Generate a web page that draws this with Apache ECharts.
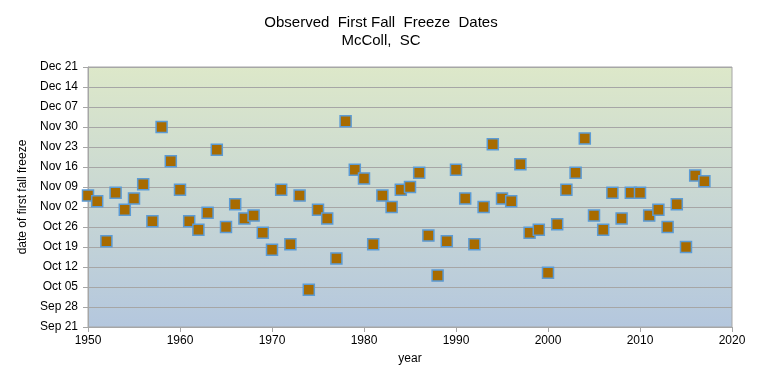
<!DOCTYPE html>
<html>
<head>
<meta charset="utf-8">
<script src="https://cdn.jsdelivr.net/npm/echarts@6/dist/echarts.min.js"></script>
<style>html,body{margin:0;padding:0;background:#fff;}#c{width:762px;height:385px;}</style>
</head>
<body>
<div id="c"></div>
<script>
// years of observation
var years = [1950,1951,1952,1953,1954,1955,1956,1957,1958,1959,
  1960,1961,1962,1963,1964,1965,1966,1967,1968,1969,
  1970,1971,1972,1973,1974,1975,1976,1977,1978,1979,
  1980,1981,1982,1983,1984,1985,1986,1987,1988,1989,
  1990,1991,1992,1993,1994,1995,1996,1997,1998,1999,
  2000,2001,2002,2003,2004,2005,2006,2007,2008,2009,
  2010,2011,2012,2013,2014,2015,2016,2017];
// first fall freeze, days after Sep 21
var freezeDay = [46,44,30,47,41,45,50,37,70,58,
  48,37,34,40,62,35,43,38,39,33,
  27,48,29,46,13,41,38,24,72,55,
  52,29,46,42,48,49,54,32,18,30,
  55,45,29,42,64,45,44,57,33,34,
  19,36,48,54,66,39,34,47,38,47,
  47,39,41,35,43,28,53,51];
// y-axis tick labels, every 7 days from Sep 21
var dateLabels = ['Sep 21','Sep 28','Oct 05','Oct 12','Oct 19','Oct 26','Nov 02','Nov 09','Nov 16','Nov 23','Nov 30','Dec 07','Dec 14','Dec 21'];

var points = years.map(function(y,i){return [y, freezeDay[i]];});
var font = 'Liberation Sans, Arial, sans-serif';
var chart = echarts.init(document.getElementById('c'));
chart.setOption({
  animation:false,
  backgroundColor:'#ffffff',
  title:{
    text:'Observed  First Fall  Freeze  Dates\nMcColl,  SC',
    left:'center', top:9,
    textStyle:{fontFamily:font,fontSize:15,fontWeight:'normal',color:'#000',lineHeight:18}
  },
  grid:{
    left:88, right:30, top:67, bottom:58, show:true,
    borderColor:'#a6a6a6', borderWidth:1,
    backgroundColor:new echarts.graphic.LinearGradient(0,0,0,1,[
      {offset:0,color:'#dde8c9'},{offset:1,color:'#b4c7de'}])
  },
  xAxis:{
    type:'value', min:1950, max:2020, interval:10,
    name:'year', nameLocation:'middle', nameGap:26,
    nameTextStyle:{fontFamily:font,fontSize:12,color:'#000'},
    axisLine:{show:true,lineStyle:{color:'#a6a6a6'}},
    axisTick:{show:true,length:5,lineStyle:{color:'#a6a6a6'}},
    axisLabel:{fontFamily:font,fontSize:12,color:'#000',margin:8,
      formatter:function(v){return String(v);}},
    splitLine:{show:false}
  },
  yAxis:{
    type:'value', min:0, max:91, interval:7,
    name:'date of first fall freeze', nameLocation:'middle', nameGap:59,
    nameTextStyle:{fontFamily:font,fontSize:12,color:'#000'},
    axisLine:{show:true,lineStyle:{color:'#a6a6a6'}},
    axisTick:{show:true,length:5,lineStyle:{color:'#a6a6a6'}},
    axisLabel:{fontFamily:font,fontSize:12,color:'#000',margin:10,
      formatter:function(v){return dateLabels[Math.round(v/7)];}},
    splitLine:{show:true,lineStyle:{color:'#a6a6a6',width:1}}
  },
  series:[{
    type:'scatter', symbol:'rect', symbolSize:11,
    itemStyle:{color:'#a86b00',borderColor:'#5b9bd5',borderWidth:1.5,opacity:1},
    data:points
  }]
});
</script>
</body>
</html>
